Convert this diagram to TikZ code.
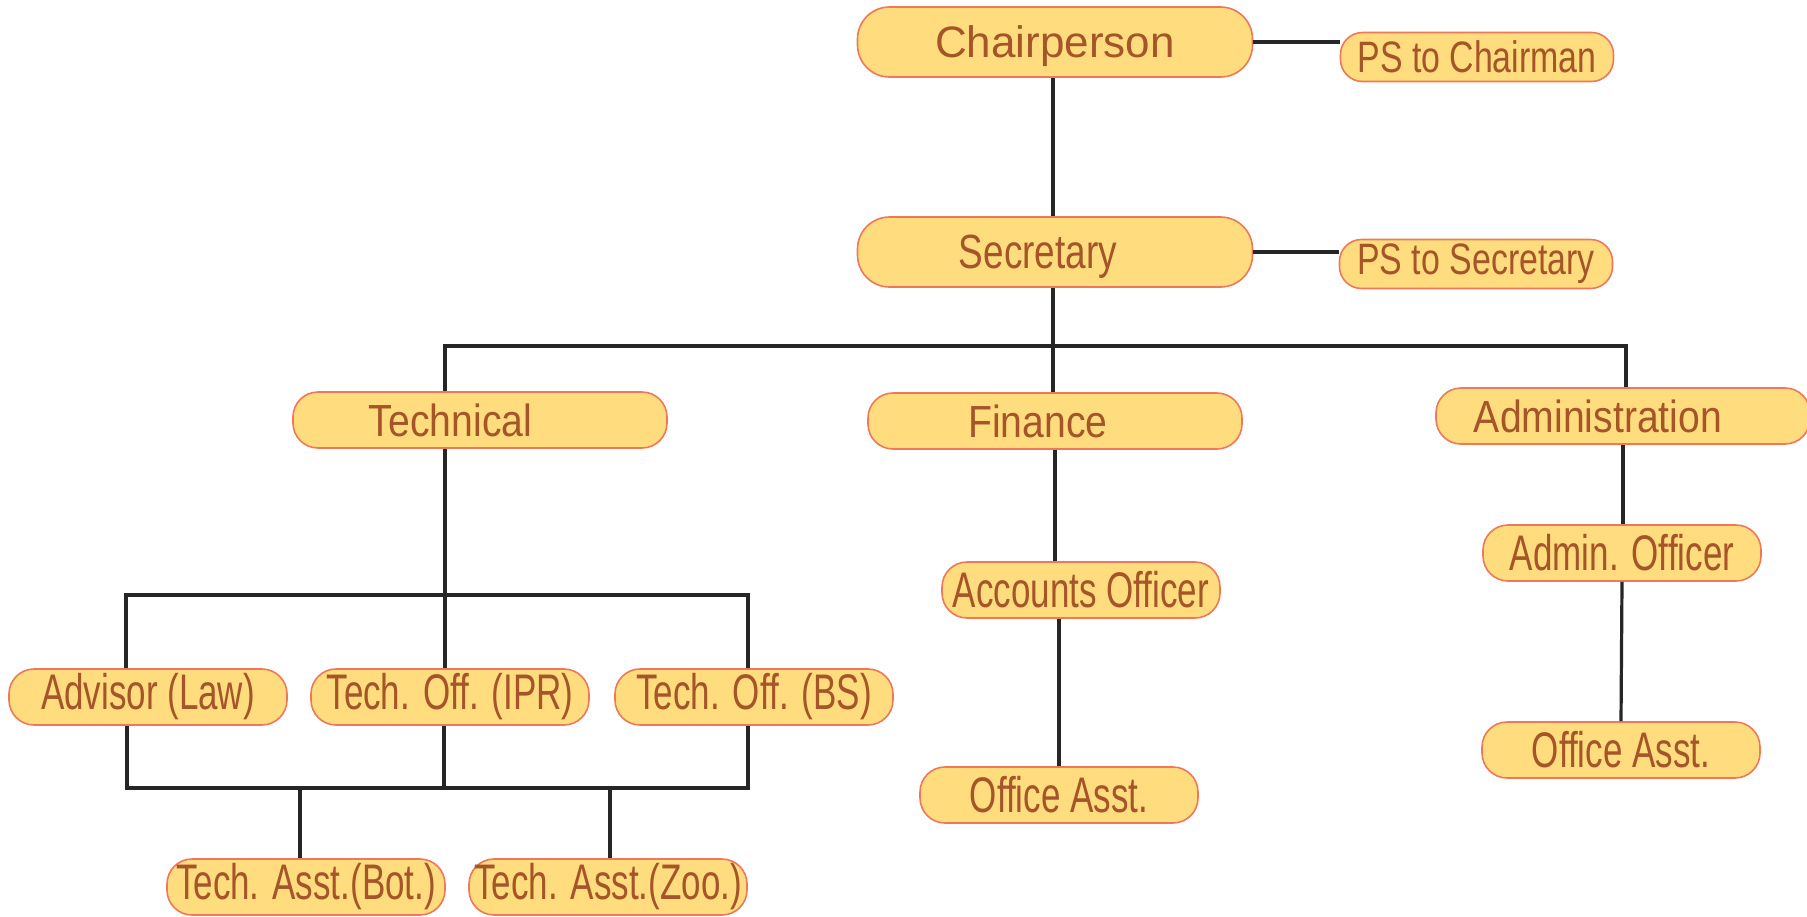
\documentclass[tikz,border=0pt]{standalone}
\usepackage{fontspec}
\usepackage{tikz}
\usetikzlibrary{calc}

\definecolor{boxfill}{RGB}{255,220,125}
\definecolor{boxline}{RGB}{240,120,90}
\definecolor{boxtext}{RGB}{165,85,40}

\newfontfamily\wideface{Liberation Sans}
\newfontfamily\midface[FakeStretch=0.87]{Liberation Sans}
\newfontfamily\secface[FakeStretch=0.77]{Liberation Sans}
\newfontfamily\narrowface[FakeStretch=0.70]{Liberation Sans}

\tikzset{
	post/.style={draw=boxline, line width=1.6bp, fill=boxfill, text=boxtext, rounded corners=25bp,
		inner sep=0pt, minimum width=278bp, minimum height=56bp,
		font=\narrowface\fontsize{50bp}{54bp}\selectfont},
	side/.style={post, minimum width=273bp, minimum height=49bp, rounded corners=22bp,
		font=\secface\fontsize{44bp}{48bp}\selectfont},
	dept/.style={post, minimum width=374bp, font=\midface\fontsize{45bp}{49bp}\selectfont},
	head/.style={post, rounded corners=32bp, minimum width=395bp, minimum height=70bp, text depth=0pt},
	nudge/.style={execute at end node={\hspace*{#1}}},
	link/.style={line width=3.2bp, draw=black!85},
}

\begin{document}
\begin{tikzpicture}[x=1bp, y=-1bp]
	\useasboundingbox (0,0) rectangle (1807,916);
	\clip (0,0) rectangle (1807,916);

	% top of the chart
	\node[head, font=\wideface\fontsize{44bp}{48bp}\selectfont] (chair) at (1055,42) {Chairperson};
	\node[head, nudge=34bp, font=\secface\fontsize{48bp}{52bp}\selectfont] (sec) at (1055,252) {Secretary};
	\node[side] (ps-chair) at (1477,57) {PS to Chairman};
	\node[side] (ps-sec) at (1476,264) {PS to Secretary};

	% departments
	\node[dept, nudge=59bp] (tech) at (480,420) {Technical};
	\node[dept, nudge=34bp] (fin) at (1055,421) {Finance};
	\node[dept, nudge=50bp] (adm) at (1623,416) {Administration};

	% finance and administration staff
	\node[post] (acc) at (1081,590) {Accounts Officer};
	\node[post] (oa-fin) at (1059,795) {Office Asst.};
	\node[post] (ao) at (1622,553) {Admin. Officer};
	\node[post] (oa-adm) at (1621,750) {Office Asst.};

	% technical staff
	\foreach \nm/\x/\txt in {law/148/{Advisor (Law)}, ipr/450/{Tech. Off. (IPR)}, bs/754/{Tech. Off. (BS)}} {
		\node[post] (\nm) at (\x,697) {\txt};
	}
	\foreach \nm/\x/\txt in {bot/306/{Tech. Asst.(Bot.)}, zoo/608/{Tech. Asst.(Zoo.)}} {
		\node[post] (\nm) at (\x,887) {\txt};
	}

	% junctions
	\coordinate (b-l) at (445,346);
	\coordinate (b-m) at (1053,346);
	\coordinate (b-r) at (1626,346);
	\coordinate (t-l) at (126,595);
	\coordinate (t-m) at (445,595);
	\coordinate (t-r) at (748,595);
	\coordinate (u-l) at (127,788);
	\coordinate (u-m) at (444,788);
	\coordinate (u-r) at (748,788);
	\coordinate (u-1) at (300,788);
	\coordinate (u-2) at (610,788);

	\draw[link] (chair.south -| b-m) -- (sec.north -| b-m);
	\draw[link] (chair.east) -- (chair.east -| ps-chair.west);
	\draw[link] (sec.east) -- (sec.east -| ps-sec.west);
	\draw[link] (sec.south -| b-m) -- (b-m);
	\draw[link] (tech.north -| b-l) -- (b-l) -- (b-r) -- (adm.north -| b-r);
	\draw[link] (b-m) -- (fin.north -| b-m);

	\draw[link] (fin.south) -- (fin.south |- acc.north);
	\draw[link] (oa-fin.north |- acc.south) -- (oa-fin.north);
	\draw[link] (adm.south) -- (adm.south |- ao.north);
	\draw[link] (ao.south) -- (oa-adm.north);

	\draw[link] (tech.south -| t-m) -- (t-m);
	\draw[link] (law.north -| t-l) -- (t-l) -- (t-r) -- (bs.north -| t-r);
	\draw[link] (t-m) -- (ipr.north -| t-m);
	\draw[link] (law.south -| u-l) -- (u-l) -- (u-r) -- (bs.south -| u-r);
	\draw[link] (ipr.south -| u-m) -- (u-m);
	\draw[link] (u-1) -- (bot.north -| u-1);
	\draw[link] (u-2) -- (zoo.north -| u-2);
\end{tikzpicture}
\end{document}
